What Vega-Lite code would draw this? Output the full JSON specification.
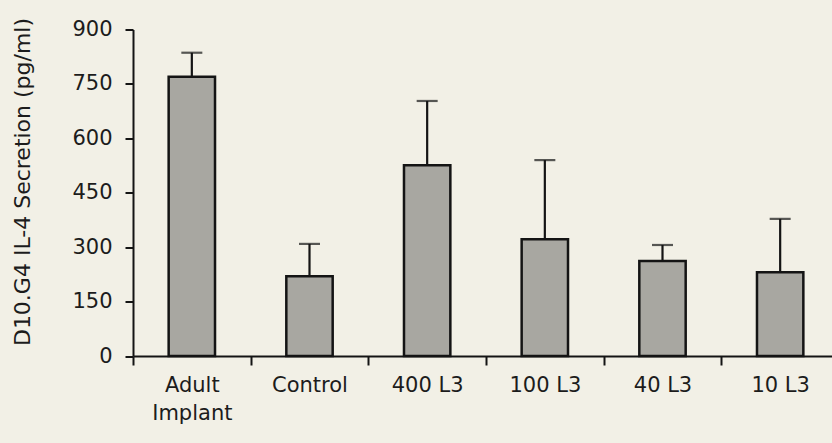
{
  "$schema": "https://vega.github.io/schema/vega-lite/v6.json",
  "width": 699,
  "height": 326.5,
  "autosize": {"type": "none"},
  "padding": {"left": 133, "top": 29.5, "right": 0, "bottom": 87},
  "background": "#f2f0e6",
  "config": {
    "view": {"stroke": null},
    "font": "DejaVu Sans",
    "axis": {
      "domainColor": "#141414",
      "domainWidth": 2,
      "tickColor": "#141414",
      "tickWidth": 2,
      "labelColor": "#1c1c1c",
      "titleColor": "#1c1c1c",
      "grid": false
    }
  },
  "data": {
    "values": [
      {"group": "Adult Implant", "mean": 770, "upper": 836},
      {"group": "Control", "mean": 220, "upper": 309},
      {"group": "400 L3", "mean": 526, "upper": 703},
      {"group": "100 L3", "mean": 322, "upper": 540},
      {"group": "40 L3", "mean": 262, "upper": 306},
      {"group": "10 L3", "mean": 231, "upper": 378}
    ]
  },
  "encoding": {
    "x": {
      "field": "group",
      "type": "nominal",
      "sort": null,
      "scale": {"range": [0, 706], "paddingInner": 0, "paddingOuter": 0},
      "axis": {
        "title": null,
        "labelAngle": 0,
        "labelFontSize": 21,
        "labelPadding": 9,
        "labelBaseline": "top",
        "labelLineHeight": 28,
        "labelOverlap": false,
        "tickSize": 9,
        "tickBand": "extent",
        "labelExpr": "datum.value == 'Adult Implant' ? ['Adult', 'Implant'] : datum.value"
      }
    }
  },
  "layer": [
    {
      "mark": {"type": "bar", "fill": "#a8a7a1", "stroke": "#141414", "strokeWidth": 2.5, "width": {"band": 0.394}},
      "encoding": {
        "y": {
          "field": "mean",
          "type": "quantitative",
          "scale": {"domain": [0, 900], "nice": false},
          "axis": {
            "title": "D10.G4 IL-4 Secretion (pg/ml)",
            "titleFontSize": 22,
            "titleFontWeight": "normal",
            "titleX": -111,
            "titleY": 152,
            "titleBaseline": "middle",
            "values": [0, 150, 300, 450, 600, 750, 900],
            "labelFontSize": 21,
            "labelPadding": 13,
            "tickSize": 8
          }
        }
      }
    },
    {
      "mark": {"type": "rule", "color": "#141414", "strokeWidth": 2.2},
      "encoding": {
        "y": {"field": "mean", "type": "quantitative"},
        "y2": {"field": "upper"}
      }
    },
    {
      "mark": {"type": "tick", "color": "#141414", "size": 21, "thickness": 2.2, "orient": "horizontal"},
      "encoding": {
        "y": {"field": "upper", "type": "quantitative"}
      }
    }
  ]
}
